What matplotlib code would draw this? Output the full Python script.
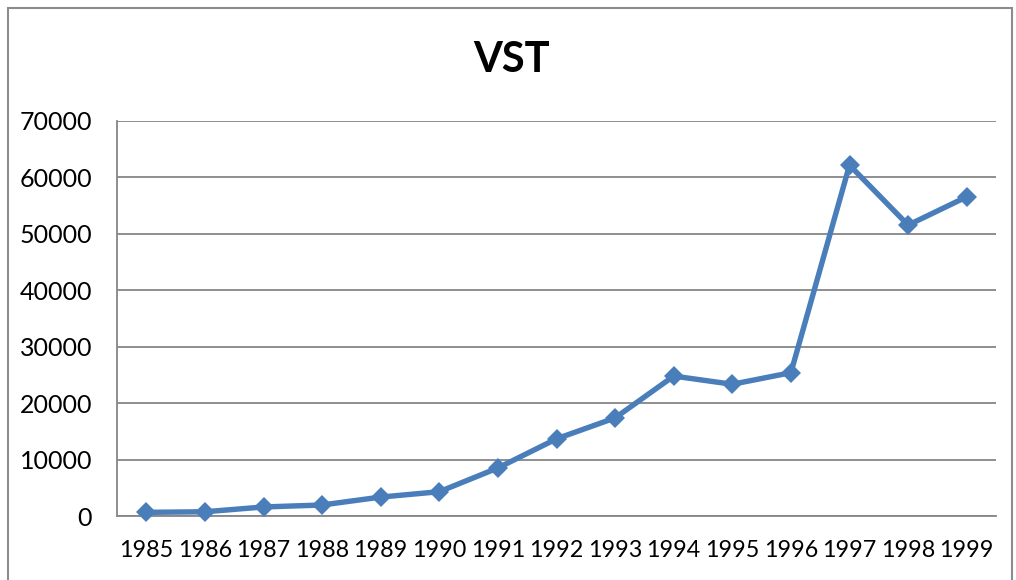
import matplotlib.pyplot as plt
from matplotlib.patches import Rectangle

years = ['1985', '1986', '1987', '1988', '1989', '1990', '1991', '1992',
         '1993', '1994', '1995', '1996', '1997', '1998', '1999']
vst = [700, 800, 1650, 2000, 3400, 4350, 8550, 13700,
       17400, 24800, 23350, 25400, 62100, 51500, 56500]
yticks = [0, 10000, 20000, 30000, 40000, 50000, 60000, 70000]

plt.rcParams['font.family'] = ['Lato', 'DejaVu Sans']

fig = plt.figure(figsize=(10.16, 5.8), dpi=100)
ax = fig.add_axes([117 / 1016, 1 - 516.3 / 580, (996 - 117) / 1016, (516.3 - 120.5) / 580])

# outer chart border
fig.patches.append(Rectangle((8 / 1016, -0.05), (1012 - 8) / 1016, 1.05 - 8 / 580,
                             transform=fig.transFigure, fill=False,
                             edgecolor='#8c8c8c', linewidth=1.5))

x = list(range(len(years)))
ax.plot(x, vst, color='#4a7ebb', linewidth=3.9, marker='D',
        markersize=10, markeredgewidth=0, zorder=3, clip_on=False)

ax.set_xlim(-0.5, len(years) - 0.5)
ax.set_ylim(0, 70000)
ax.set_yticks(yticks)
ax.set_yticklabels([str(v) for v in yticks])
ax.set_xticks(x)
ax.set_xticklabels(years)
ax.tick_params(axis='both', length=0, colors='black')
ax.tick_params(axis='y', pad=18, labelsize=18)
ax.tick_params(axis='x', pad=17, labelsize=16.8)

ax.grid(axis='y', color='#868686', linewidth=1.3)
ax.set_axisbelow(True)
for side in ['top', 'right']:
    ax.spines[side].set_visible(False)
for side in ['left', 'bottom']:
    ax.spines[side].set_color('#868686')
    ax.spines[side].set_linewidth(1.3)

fig.text(512 / 1016, 1 - 60 / 580, 'VST', ha='center', va='center',
         fontsize=30, fontweight='bold')

fig.savefig('out.png', dpi=100)
